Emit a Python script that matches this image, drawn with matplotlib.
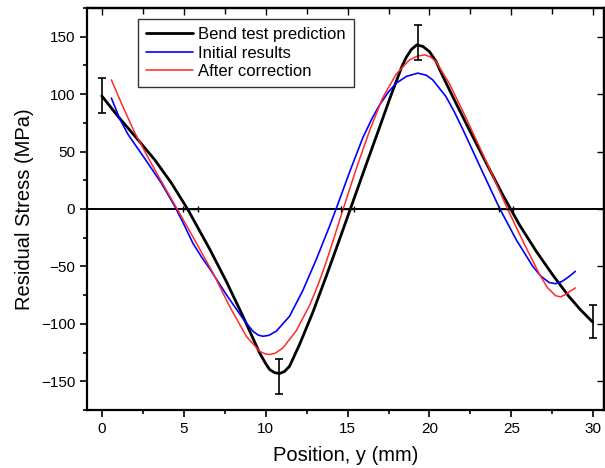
import matplotlib
matplotlib.use("Agg")
import matplotlib.pyplot as plt
from matplotlib.ticker import MultipleLocator

plt.rcParams['font.family'] = ['Liberation Sans', 'DejaVu Sans']

# Bend test prediction (black)
bend_x = [0.0, 1.0, 2.21, 3.23, 4.25, 5.26, 6.59, 7.6, 8.62, 9.63, 10.0, 10.24, 10.55, 10.85, 11.15, 11.46,
          12.07, 12.88, 13.7, 14.51, 15.22, 15.93, 16.95, 17.6, 17.97, 18.3, 18.58, 18.9, 19.23, 19.6, 20.0, 20.4, 20.8,
          21.5, 22.5, 23.5, 24.5, 25.5, 26.5, 27.5, 28.5, 29.2, 29.96]
bend_y = [98.5, 80.5, 60.3, 42.9, 22.6, -0.6, -35.0, -63.0, -93.5, -125.2, -134.5, -139.7, -142.5, -143.2, -141.5, -136.9,
          -118.0, -90.0, -58.5, -26.5, 2.0, 30.5, 71.0, 97.0, 111.0, 123.5, 132.0, 139.0, 142.9, 141.5, 137.0, 128.5, 116.0,
          95.5, 67.0, 39.0, 11.5, -14.0, -36.5, -57.0, -76.0, -87.5, -98.5]

# Initial results (blue)
init_x = [0.59, 1.1, 1.6, 2.62, 3.64, 4.45, 5.0, 5.57, 6.1, 6.59, 7.6, 8.62, 9.23, 9.55, 9.84, 10.2, 10.65, 11.46,
          12.27, 13.09, 13.9, 14.3, 15.12, 15.93, 16.5, 16.95, 17.5, 17.97, 18.6, 19.29, 19.8, 20.2, 21.0, 21.5,
          22.03, 23.05, 24.05, 24.3, 25.3, 26.3, 26.8, 27.3, 27.7, 28.1, 28.5, 28.9]
init_y = [96.5, 78.5, 65.0, 44.0, 22.5, 2.5, -13.0, -30.0, -42.0, -52.0, -74.5, -95.5, -106.5, -109.8, -110.8, -110.0, -106.4, -93.4,
          -71.0, -44.0, -15.0, 0.0, 32.0, 62.0, 79.0, 90.5, 102.0, 109.5, 115.5, 118.3, 116.5, 112.4, 98.0, 85.0,
          69.5, 38.0, 7.5, 0.0, -26.9, -49.9, -58.5, -64.0, -65.0, -63.0, -59.0, -54.3]

# After correction (red)
corr_x = [0.59, 1.2, 2.01, 3.03, 4.04, 4.86, 5.77, 6.79, 7.8, 8.82, 9.63, 9.95, 10.24, 10.6, 11.06, 11.87, 12.68,
          13.2, 13.7, 14.2, 14.71, 15.53, 16.34, 17.15, 17.97, 18.78, 19.25, 19.7, 20.05, 20.4, 21.22, 22.24, 23.25,
          24.0, 24.7, 25.7, 26.7, 27.2, 27.7, 28.0, 28.3, 28.6, 28.9]
corr_y = [112.4, 92.0, 66.5, 39.5, 14.0, -6.4, -29.6, -55.7, -84.7, -110.8, -123.8, -126.0, -126.7, -125.5, -120.9, -106.0, -84.0,
          -66.0, -46.0, -24.0, -1.0, 35.0, 68.0, 97.0, 117.5, 129.8, 133.0, 134.2, 132.5, 128.3, 109.0, 79.0, 48.0,
          24.5, 2.0, -28.0, -56.5, -68.5, -75.5, -76.5, -74.5, -71.5, -68.7]

# Vertical error bars (bend test)
ev_x = [0.0, 10.8, 19.3, 30.0]
ev_y = [99.0, -146.0, 145.0, -98.0]
ev_err = [15.0, 15.0, 15.0, 14.5]

# Horizontal error bars at zero crossings
eh_x = [5.42, 15.0, 24.67]
eh_y = [0.0, 0.0, 0.0]
eh_err = [0.45, 0.41, 0.41]

fig = plt.figure(figsize=(6.05, 4.68), dpi=100)
ax = fig.add_axes([87/605, 1-410/468, (604-87)/605, (410-8)/468])

ax.axhline(0, color='black', lw=1.4, zorder=1)
kw = dict(solid_joinstyle='round', solid_capstyle='round', zorder=3)
ax.plot(bend_x, bend_y, color='black', lw=2.0, label='Bend test prediction', **kw)
ax.plot(init_x, init_y, color='#0000ff', lw=1.2, label='Initial results', **kw)
ax.plot(corr_x, corr_y, color='#ff2a2a', lw=1.1, label='After correction', **kw)
ax.errorbar(ev_x, ev_y, yerr=ev_err, fmt='none', ecolor='black', elinewidth=1.2, capsize=3, capthick=1.2, zorder=4)
ax.errorbar(eh_x, eh_y, xerr=eh_err, fmt='none', ecolor='black', elinewidth=1.0, capsize=2.5, capthick=1.0, zorder=4)

ax.set_xlim(-0.9, 30.65)
ax.set_ylim(-175, 175)
ax.xaxis.set_major_locator(MultipleLocator(5))
ax.xaxis.set_minor_locator(MultipleLocator(2.5))
ax.yaxis.set_major_locator(MultipleLocator(50))
ax.yaxis.set_minor_locator(MultipleLocator(25))
ax.tick_params(which='both', direction='out', width=1.2, labelsize=11, colors='black')
ax.tick_params(which='major', length=5)
ax.tick_params(which='minor', length=3)
for s in ax.spines.values():
    s.set_linewidth(1.6)

secx = ax.secondary_xaxis('top')
secx.xaxis.set_major_locator(MultipleLocator(5))
secx.xaxis.set_minor_locator(MultipleLocator(2.5))
secx.tick_params(which='both', direction='in', width=1.0, labeltop=False)
secx.tick_params(which='major', length=5)
secx.tick_params(which='minor', length=4)
secx.spines['top'].set_linewidth(1.6)

secy = ax.secondary_yaxis('right')
secy.yaxis.set_major_locator(MultipleLocator(50))
secy.tick_params(which='major', direction='in', length=5, width=1.0, labelright=False)
secy.spines['right'].set_linewidth(1.6)

ax.set_xlabel('Position, y (mm)', fontsize=14.5, labelpad=7)
ax.set_ylabel('Residual Stress (MPa)', fontsize=14.5, labelpad=5)

leg = ax.legend(loc='upper left', bbox_to_anchor=((138-87)/517, (410-19)/402), fontsize=12,
                frameon=True, fancybox=False, edgecolor='black', handlelength=2.8,
                borderpad=0.5, labelspacing=0.2, handletextpad=0.3, borderaxespad=0.0)
leg.get_frame().set_linewidth(1.0)
fr = leg.get_frame()

fig.savefig('out.png', dpi=100)
